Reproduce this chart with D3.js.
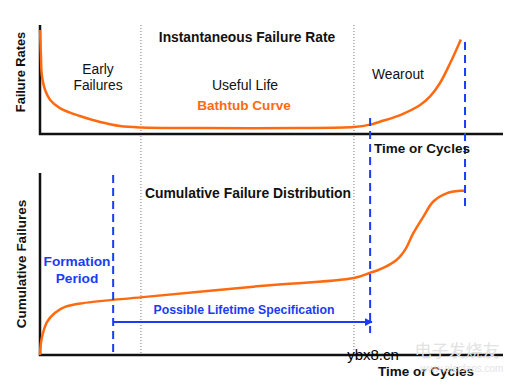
<!DOCTYPE html>
<html>
<head>
<meta charset="utf-8">
<script src="https://cdn.jsdelivr.net/npm/d3@7"></script>
<style>
  body { margin: 0; background: #fff; }
  svg { font-family: "Liberation Sans", Arial, sans-serif; }
</style>
</head>
<body>
<svg id="chart" width="520" height="385"></svg>
<script>
// time axis is 0..100, both curves on 0..100 value scales
let rateTime  = [0, 0.2, 0.4, 1.1, 2.2, 4.3, 8.6, 13, 17.3, 21.8, 34.6, 56.2, 67.8, 71.3, 73.4, 77.8, 82.1, 84.2, 86.4, 88.6, 90.9];
let rateValue = [95.4, 72.4, 54.1, 40.4, 31.2, 23.8, 16.5, 11, 7.3, 6, 5.5, 5.5, 6.4, 8.6, 11.3, 17.4, 26.6, 34.2, 46.8, 65.1, 86.8];

let cumTime  = [0, 0.2, 0.65, 1.5, 3.2, 5.4, 9.3, 22.2, 47.5, 67.8, 71.3, 73.4, 77.0, 78.8, 80.6, 82.8, 84.9, 87.8, 90.7, 91.8];
let cumValue = [0, 6.6, 12.1, 18.1, 23.1, 26.4, 28.5, 31.8, 37.9, 42.3, 45.2, 47.0, 52.2, 57.6, 66.8, 76.0, 84.2, 88.8, 90.2, 90.2];

let phaseBounds = [21.8, 67.8];          // early | useful life | wearout
let formationEnd = 15.8;
let lifetimeEnd = 71.3;
let wearEnd = 91.8;

let chart = d3.select("#chart");
let orange = "#ff6a10", blue = "#1a3cf5";

let xScale = d3.scaleLinear().domain([0, 100]).range([40, 503]);
let yTop = d3.scaleLinear().domain([0, 100]).range([134, 25]);
let yBot = d3.scaleLinear().domain([0, 100]).range([355, 173]);

// dotted phase dividers
chart.selectAll("line.phase")
    .data(phaseBounds).enter()
    .append("line")
        .attr("class", "phase")
        .attr("x1", d => xScale(d)).attr("x2", d => xScale(d))
        .attr("y1", yTop(100)).attr("y2", yBot(-1.5))
        .attr("stroke", "#777").attr("stroke-width", 1)
        .attr("stroke-dasharray", "1,2");

// axes
function drawAxes(y){
    chart.append("path")
        .attr("d", "M" + xScale(0) + "," + y(100) + "V" + y(0) + "H" + xScale(100))
        .attr("fill", "none").attr("stroke", "#111").attr("stroke-width", 2.5);
}
drawAxes(yTop);
drawAxes(yBot);

// curves
let rateData = rateTime.map((t, i) => [t, rateValue[i]]);
let cumData = cumTime.map((t, i) => [t, cumValue[i]]);
let smooth = d3.curveCatmullRom.alpha(0.5);

chart.append("path")
    .datum(rateData)
    .attr("d", d3.line().x(d => xScale(d[0])).y(d => yTop(d[1])).curve(smooth))
    .attr("fill", "none").attr("stroke", orange).attr("stroke-width", 2.5);

chart.append("path")
    .datum(cumData)
    .attr("d", d3.line().x(d => xScale(d[0])).y(d => yBot(d[1])).curve(smooth))
    .attr("fill", "none").attr("stroke", orange).attr("stroke-width", 2.5);

// blue dashed markers
let markers = [
    {t: formationEnd, y1: yBot(98.9), y2: yBot(0)},
    {t: lifetimeEnd, y1: yTop(14.7), y2: yBot(12.1)},
    {t: wearEnd, y1: yTop(84.4), y2: yBot(81.3)}
];
chart.selectAll("line.marker")
    .data(markers).enter()
    .append("line")
        .attr("class", "marker")
        .attr("x1", d => xScale(d.t)).attr("x2", d => xScale(d.t))
        .attr("y1", d => d.y1).attr("y2", d => d.y2)
        .attr("stroke", blue).attr("stroke-width", 2)
        .attr("stroke-dasharray", "8,5");

// lifetime arrow
chart.append("defs").append("marker")
    .attr("id", "arrow")
    .attr("viewBox", "0 0 10 10")
    .attr("refX", 9).attr("refY", 5)
    .attr("markerWidth", 4).attr("markerHeight", 4)
    .attr("orient", "auto")
  .append("path")
    .attr("d", "M0,0L10,5L0,10Z").attr("fill", blue);

chart.append("line")
    .attr("x1", xScale(formationEnd)).attr("x2", xScale(lifetimeEnd + 0.4))
    .attr("y1", yBot(18.1)).attr("y2", yBot(18.1))
    .attr("stroke", blue).attr("stroke-width", 2)
    .attr("marker-end", "url(#arrow)");

// labels
function label(txt, x, y, opts){
    opts = opts || {};
    let t = chart.append("text")
        .text(txt)
        .attr("x", x).attr("y", y)
        .attr("text-anchor", opts.anchor || "middle")
        .attr("dominant-baseline", "middle")
        .style("font-size", (opts.size || 12) + "px")
        .style("font-weight", opts.bold ? "bold" : "normal")
        .attr("fill", opts.color || "#111");
    if (opts.rotate) t.attr("transform", "rotate(-90," + x + "," + y + ")");
    return t;
}

label("Failure Rates", 22, 72, {bold: true, rotate: true, size: 12.8});
label("Cumulative Failures", 22, 264, {bold: true, rotate: true, size: 13.5});
label("Instantaneous Failure Rate", 247, 38, {bold: true, size: 13.8});
label("Early", 98, 70, {size: 13.8});
label("Failures", 98, 86, {size: 13.8});
label("Useful Life", 245, 86, {size: 14});
label("Bathtub Curve", 244, 106, {bold: true, size: 13.6, color: orange});
label("Wearout", 372, 75, {anchor: "start", size: 13.8});
label("Time or Cycles", 422, 149, {bold: true, size: 13.5});
label("Cumulative Failure Distribution", 248, 194, {bold: true, size: 13.9});
label("Formation", 77, 262, {bold: true, size: 13.7, color: blue});
label("Period", 77, 279, {bold: true, size: 13.7, color: blue});
label("Possible Lifetime Specification", 244, 311, {bold: true, size: 12.3, color: blue});
label("Time or Cycles", 426, 372, {bold: true, size: 13.5});

// watermark
label("电子发烧友", 457, 352, {size: 17, color: "#e2e2e2"}).style("font-family", "Noto Sans CJK SC");
label("www.elecfans.com", 462, 369, {size: 10, color: "#e4e4e4"});
label("ybx8.cn", 373, 356, {size: 15, color: "#000"});
</script>
</body>
</html>
